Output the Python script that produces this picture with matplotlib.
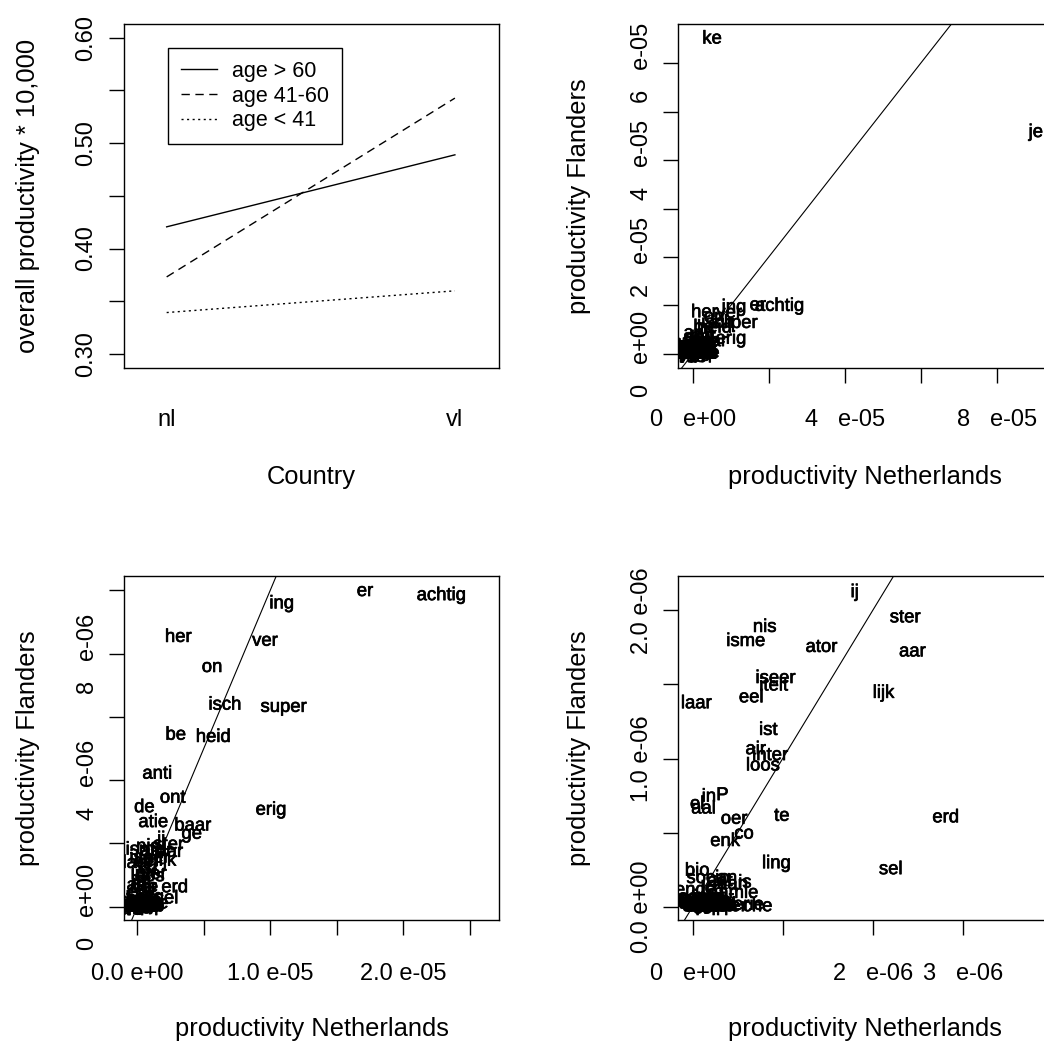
import numpy as np
import matplotlib.pyplot as plt
import matplotlib.patheffects as pe
from matplotlib.lines import Line2D

plt.rcParams['font.family'] = ['Liberation Sans', 'DejaVu Sans']

# --- panel 1: interaction plot (overall productivity * 10,000)
countries = ['nl', 'vl']
age_groups = ['age > 60', 'age 41-60', 'age < 41']
prod_old = [0.4206, 0.4889]
prod_mid = [0.3731, 0.5427]
prod_young = [0.3393, 0.3599]

# --- affix productivity, Netherlands vs Flanders (units of 1e-6)
affix = ['ke', 'je', 'ing', 'er', 'achtig', 'her', 'ver', 'on', 'isch', 'super',
         'be', 'heid', 'anti', 'ont', 'de', 'erig', 'atie', 'baar', 'ge',
         'ij', 'ster', 'nis', 'isme', 'ator', 'aar', 'iseer', 'iteit', 'eel',
         'lijk', 'laar', 'ist', 'air', 'inter', 'loos', 'in', 'P', 'el', 'aal',
         'oer', 'te', 'erd', 'co', 'enk', 'ling', 'sel', 'bio', 'socio', 'an',
         'is', 'ende', 'aamie', 'ica', 'aat', 'iaan',
         'vice', 'ex', 'ig', 'aan', 'weer', 'af', 'wan', 'door', 'mee', 'aarts',
         'om', 'pro', 'tegen', 'op', 'uit', 'over', 'toe', 'mis', 'oud',
         'mede', 'al', 'hyper', 'ultra', 'neo', 'non', 'pre', 'post', 'sub',
         'extra', 'mini', 'mega', 'semi', 'auto', 'erij', 'ief', 'iek', 'eur',
         'schap', 'dom', 'tje', 'pje',
         'pier', 'erie', 'che']
nl_e6 = [5.1, 90.3, 10.86, 17.12, 22.86, 3.08, 9.60, 5.62, 6.59, 11.0,
         2.89, 5.71, 1.50, 2.66, 0.53, 10.05, 1.20, 4.17, 4.09,
         1.80, 2.36, 0.80, 0.59, 1.43, 2.44, 0.92, 0.90, 0.65,
         2.12, 0.04, 0.84, 0.70, 0.86, 0.78, 0.18, 0.33, 0.05, 0.12,
         0.46, 0.99, 2.81, 0.57, 0.36, 0.93, 2.20, 0.05, 0.17, 0.38,
         0.58, 0.03, 0.45, 0.22, 0.30, 0.42,
         0.01, 0.03, 0.04, 0.06, 0.07, 0.09, 0.10, 0.12, 0.13, 0.14,
         0.16, 0.17, 0.19, 0.21, 0.23, 0.25, 0.27, 0.29, 0.31,
         0.02, 0.00, 0.05, 0.08, 0.11, 0.15, 0.18, 0.20, 0.24,
         0.26, 0.28, 0.12, 0.06, 0.22, 0.30, 0.09, 0.14, 0.02,
         0.19, 0.04, 0.10, 0.16,
         0.43, 0.62, 0.72]
vl_e6 = [65.0, 45.7, 9.57, 9.96, 9.83, 8.51, 8.39, 7.56, 6.37, 6.30,
         5.42, 5.35, 4.19, 3.43, 3.13, 3.05, 2.66, 2.55, 2.29,
         2.12, 1.95, 1.885, 1.79, 1.75, 1.72, 1.54, 1.49, 1.41,
         1.44, 1.37, 1.19, 1.06, 1.02, 0.95, 0.74, 0.75, 0.69, 0.66,
         0.59, 0.61, 0.60, 0.49, 0.44, 0.29, 0.25, 0.24, 0.19, 0.19,
         0.16, 0.11, 0.09, 0.12, 0.17, 0.15,
         0.02, 0.00, 0.01, 0.00, 0.03, 0.02, 0.00, 0.01, 0.03, 0.00,
         0.02, 0.03, 0.01, 0.00, 0.02, 0.01, 0.00, 0.02, 0.01,
         0.03, 0.00, 0.04, 0.02, 0.01, 0.03, 0.00, 0.02, 0.04,
         0.01, 0.03, 0.05, 0.06, 0.04, 0.03, 0.05, 0.06, 0.05,
         0.00, 0.02, 0.04, 0.01,
         0.00, 0.01, 0.00]

nl = np.array(nl_e6) * 1e-6
vl = np.array(vl_e6) * 1e-6

W, H = 1044, 1042
fig = plt.figure(figsize=(W / 100, H / 100), dpi=100)

# R's bitmap text is a bit heavier than the default antialiased glyphs
heavy = [pe.withStroke(linewidth=0.5, foreground='black')]


def add_ax(left, top, right, bottom):
    # pixel box -> figure fraction
    return fig.add_axes([left / W, 1 - bottom / H, (right - left) / W, (bottom - top) / H])


def style(ax, xpad, ypad, xlab_y, ylab_x, ylabel):
    for s in ax.spines.values():
        s.set_linewidth(1.0)
    ax.tick_params(direction='out', length=10.8, width=1.0, labelsize=17)
    ax.tick_params(axis='x', pad=xpad)
    ax.tick_params(axis='y', pad=ypad)
    ax.set_xlabel('productivity Netherlands', fontsize=18.4, va='center')
    ax.set_ylabel(ylabel, fontsize=18.4, va='center', ha='center')
    ax.xaxis.set_label_coords(0.5, xlab_y)
    ax.yaxis.set_label_coords(ylab_x, 0.5)


def scatter_panel(ax, xlim, ylim, xt, xtl, yt, ytl):
    ax.set_xlim(*xlim)
    ax.set_ylim(*ylim)
    ax.set_xticks(xt, xtl)
    ax.set_yticks(yt, ytl, rotation=90, va='center')
    for lab, x, y in zip(affix, nl, vl):
        ax.text(x, y, lab, fontsize=13.3, ha='center', va='center', clip_on=True,
                path_effects=heavy)
    ax.axline((0, 0), slope=1, color='black', lw=0.8)


# panel 1
ax1 = add_ax(124, 24, 499, 368)
xs = np.arange(len(countries)) + 1
ax1.plot(xs, prod_old, color='black', lw=1.0, ls='-')
ax1.plot(xs, prod_mid, color='black', lw=1.0, ls=(0, (6, 4)))
ax1.plot(xs, prod_young, color='black', lw=1.0, ls=(0, (1.5, 2.5)))
ax1.set_xlim(0.852, 2.153)
ax1.set_ylim(0.2867, 0.613)
ax1.set_xticks(xs, countries)
ax1.set_yticks([0.30, 0.35, 0.40, 0.45, 0.50, 0.55, 0.60],
               ['0.30', '', '0.40', '', '0.50', '', '0.60'], rotation=90, va='center')
style(ax1, 18.9, 8.6, -0.316, -0.255, 'overall productivity * 10,000')
ax1.tick_params(axis='x', length=0, pad=29.2)
ax1.set_xlabel('Country', fontsize=18.4, va='center')
handles = [Line2D([], [], color='black', lw=1.0, ls='-'),
           Line2D([], [], color='black', lw=1.0, ls=(0, (6, 4))),
           Line2D([], [], color='black', lw=1.0, ls=(0, (1.5, 2.5)))]
leg = ax1.legend(handles, age_groups, loc='upper left', bbox_to_anchor=(0.1173, 0.930),
                 borderaxespad=0, fontsize=15.5, handlelength=1.67, handletextpad=0.7,
                 borderpad=0.6, labelspacing=0.17, fancybox=False, framealpha=1,
                 edgecolor='black')
leg.get_frame().set_linewidth(1.0)

# panel 2: all affixes
ax2 = add_ax(678, 24, 1051, 368)
scatter_panel(ax2, (-0.387e-5, 9.43e-5), (-0.29e-5, 6.81e-5),
              [0, 2e-5, 4e-5, 6e-5, 8e-5], ['0   e+00', '', '4   e-05', '', '8   e-05'],
              [0, 1e-5, 2e-5, 3e-5, 4e-5, 5e-5, 6e-5],
              ['0   e+00', '', '2   e-05', '', '4   e-05', '', '6   e-05'])
style(ax2, 18.9, 7.2, -0.316, -0.266, 'productivity Flanders')

# panel 3: zoom
ax3 = add_ax(124, 576, 499, 920)
scatter_panel(ax3, (-1.0e-6, 27.2e-6), (-0.42e-6, 10.45e-6),
              [0, 5e-6, 1e-5, 1.5e-5, 2e-5, 2.5e-5],
              ['0.0 e+00', '', '1.0 e-05', '', '2.0 e-05', ''],
              [0, 2e-6, 4e-6, 6e-6, 8e-6, 1e-5],
              ['0   e+00', '', '4   e-06', '', '8   e-06', ''])
style(ax3, 20.3, 7.2, -0.318, -0.255, 'productivity Flanders')

# panel 4: closer zoom
ax4 = add_ax(678, 576, 1051, 920)
scatter_panel(ax4, (-0.163e-6, 3.98e-6), (-0.09e-6, 2.232e-6),
              [0, 1e-6, 2e-6, 3e-6], ['0   e+00', '', '2   e-06', '3   e-06'],
              [0, 0.5e-6, 1e-6, 1.5e-6, 2e-6],
              ['0.0 e+00', '', '1.0 e-06', '', '2.0 e-06'])
style(ax4, 20.3, 7.2, -0.318, -0.266, 'productivity Flanders')

fig.savefig('out.png', dpi=100)
